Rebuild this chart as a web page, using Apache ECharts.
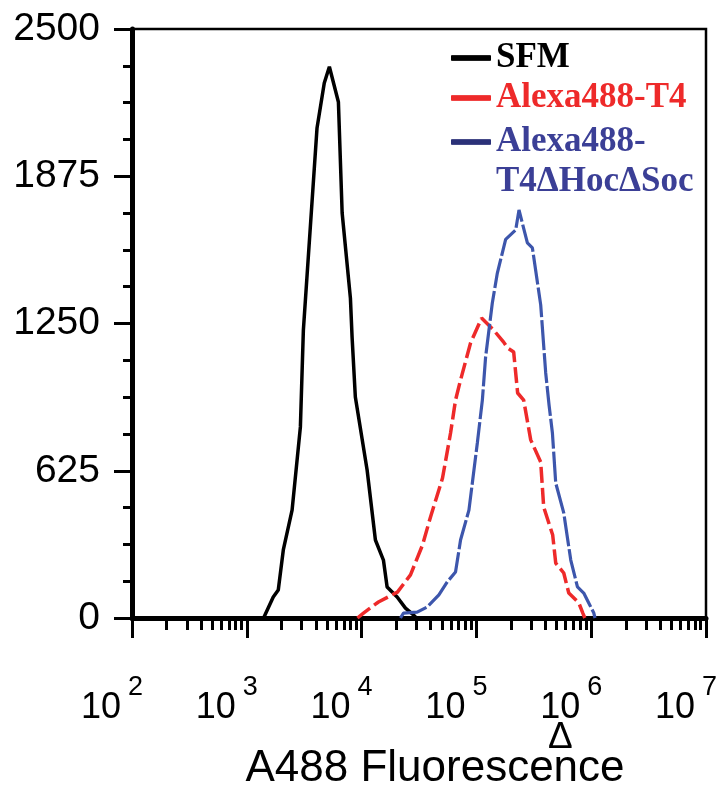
<!DOCTYPE html>
<html>
<head>
<meta charset="utf-8">
<script src="https://cdn.jsdelivr.net/npm/echarts@6/dist/echarts.min.js"></script>
<style>
html,body{margin:0;padding:0;background:#fff;}
#chart{width:719px;height:785px;}
</style>
</head>
<body>
<div id="chart"></div>
<script>
// ---- data ----
var seriesNames = ['SFM', 'Alexa488-T4', 'Alexa488-T4\u0394Hoc\u0394Soc'];

var sfmX = [1400, 1700, 1880, 2080, 2480, 2930, 3110, 4090, 4730, 5240, 6280, 6770, 7990, 8260, 8820, 11170, 13190, 15490, 16680, 20400, 24100, 28300, 30000];
var sfmY = [0, 89, 119, 289, 458, 811, 1222, 2080, 2271, 2340, 2190, 1719, 1358, 1193, 938, 628, 331, 246, 132, 89, 42, 13, 0];

var t4X = [9200, 10380, 14020, 20520, 26660, 33950, 39850, 50690, 59560, 65800, 72770, 88940, 110900, 120200, 141300, 172700, 187100, 211200, 228700, 258100, 297200, 363200, 385600, 462000, 490900, 576600, 637800, 780100, 845400, 880000];
var t4Y = [0, 21, 68, 110, 183, 310, 429, 594, 785, 925, 1010, 1167, 1273, 1256, 1222, 1171, 1146, 1129, 955, 925, 756, 662, 471, 352, 233, 191, 106, 64, 21, 0];

var dX = [21800, 23180, 30490, 37300, 47120, 55730, 65800, 72770, 86100, 101900, 112700, 120300, 137600, 152200, 179800, 219900, 235000, 278100, 307400, 363200, 401500, 429400, 459400, 490900, 576600, 663700, 759000, 861000, 952000, 1054000, 1080000];
var dY = [0, 21, 25, 47, 98, 153, 195, 331, 458, 743, 925, 1108, 1337, 1464, 1607, 1647, 1732, 1592, 1571, 1329, 1040, 904, 785, 573, 446, 246, 132, 106, 64, 21, 0];

var yTicks = [0, 625, 1250, 1875, 2500];
var xMin = 100, xMax = 10000000;
var xAxisTitle = 'A488 Fluorescence';
var strayMark = '\u0394';

function zip(xs, ys) { return xs.map(function (x, i) { return [x, ys[i]]; }); }

var sans = '"Liberation Sans", Arial, Helvetica, sans-serif';
var serif = '"Liberation Serif", "Times New Roman", serif';
var RED = '#ee2a2a', BLUE = '#3d56ac', BLUE_TXT = '#3b3f96', BLUE_ICON = '#2b3178';

var chart = echarts.init(document.getElementById('chart'), null, {renderer: 'canvas'});
var legendCommon = {
  orient: 'vertical', left: 451, padding: 0, itemGap: 0, z: 2,
  itemWidth: 40, itemHeight: 5, icon: 'rect', selectedMode: false,
  itemStyle: {borderWidth: 0},
  textStyle: {fontFamily: serif, fontWeight: 'bold', fontSize: 35, lineHeight: 40}
};
// solid legend keys (drawn over the legend's own line keys)
function legendKey(y, color) {
  return {type: 'rect', z: 100, z2: 100, shape: {x: 451.5, y: y, width: 39, height: 5.5}, style: {fill: color, stroke: null}};
}
var option = {
  animation: false,
  backgroundColor: '#fff',
  grid: {left: 132, top: 29, width: 574, height: 589, outerBoundsMode: 'none', containLabel: false,
         show: true, borderColor: '#000', borderWidth: 2.5, backgroundColor: 'transparent'},
  xAxis: {
    type: 'log', logBase: 10, min: xMin, max: xMax, interval: 1,
    name: xAxisTitle, nameLocation: 'middle', nameGap: 129,
    nameTextStyle: {fontFamily: sans, fontSize: 44, lineHeight: 44, color: '#000', padding: [0, 0, 0, 32]},
    axisLine: {onZero: false, lineStyle: {color: '#000', width: 5}},
    axisTick: {inside: false, length: 20, lineStyle: {color: '#000', width: 3}},
    minorTick: {show: true, splitNumber: 9, length: 12, lineStyle: {color: '#000', width: 3}},
    splitLine: {show: false}, minorSplitLine: {show: false},
    axisLabel: {
      margin: 56, showMinLabel: true, showMaxLabel: true,
      formatter: function (v) {
        var e = Math.round(Math.log(v) / Math.LN10);
        return '{base|10}{sup|' + e + '}{pad| }';
      },
      rich: {
        base: {fontFamily: sans, fontSize: 36, lineHeight: 36, color: '#000', verticalAlign: 'bottom'},
        sup: {fontFamily: sans, fontSize: 27, lineHeight: 27, color: '#000', verticalAlign: 'top', padding: [0, 0, 0, 7]},
        pad: {fontFamily: sans, fontSize: 10, lineHeight: 52, width: 40, verticalAlign: 'middle'}
      }
    }
  },
  yAxis: {
    type: 'value', min: yTicks[0], max: yTicks[yTicks.length - 1], interval: yTicks[1] - yTicks[0],
    axisLine: {show: true, onZero: false, lineStyle: {color: '#000', width: 5}},
    axisTick: {show: true, inside: false, length: 18, lineStyle: {color: '#000', width: 3}},
    minorTick: {show: true, splitNumber: 4, length: 9, lineStyle: {color: '#000', width: 3}},
    splitLine: {show: false},
    axisLabel: {margin: 32, fontFamily: sans, fontSize: 39, color: '#000', showMinLabel: true, showMaxLabel: true,
                formatter: function (v) { return String(v); }}
  },
  legend: [
    Object.assign({}, legendCommon, {
      top: 38,
      data: [
        {name: seriesNames[0], itemStyle: {color: '#000', borderWidth: 0}, textStyle: {color: '#000'}},
        {name: seriesNames[1], itemStyle: {color: RED, borderWidth: 0}, textStyle: {color: RED}}
      ]
    }),
    Object.assign({}, legendCommon, {
      top: 82,
      formatter: function (name) { return ' \nAlexa488-\n' + name.replace('Alexa488-', ''); },
      data: [
        {name: seriesNames[2], itemStyle: {color: BLUE_ICON, borderWidth: 0}, textStyle: {color: BLUE_TXT}}
      ]
    })
  ],
  graphic: {
    z: 100,
    elements: [
      legendKey(55.25, '#000'),
      legendKey(95.25, RED),
      legendKey(139.25, BLUE_ICON),
      {type: 'text', left: 548, top: 719, style: {text: strayMark, fontFamily: sans, fontSize: 37, fill: '#000'}}
    ]
  },
  series: [
    {name: seriesNames[0], type: 'line', data: zip(sfmX, sfmY), showSymbol: false, color: '#000',
     lineStyle: {color: '#000', width: 3.5}, z: 3},
    {name: seriesNames[1], type: 'line', data: zip(t4X, t4Y), showSymbol: false, color: RED,
     lineStyle: {color: RED, width: 3.5, type: [16, 5]}, z: 4},
    {name: seriesNames[2], type: 'line', data: zip(dX, dY), showSymbol: false, color: BLUE,
     lineStyle: {color: BLUE, width: 3.2, type: [30, 3]}, z: 5}
  ]
};
chart.setOption(option);
</script>
</body>
</html>
